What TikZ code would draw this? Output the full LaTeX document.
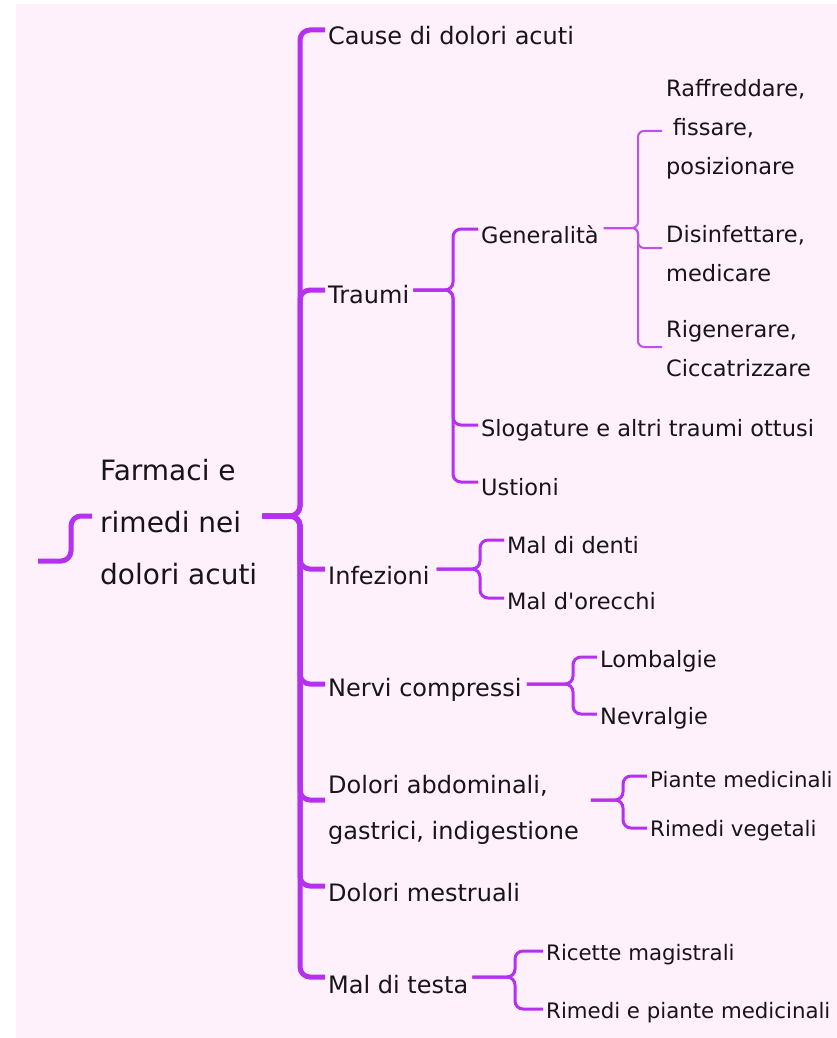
\documentclass[tikz,border=0pt]{standalone}
\usepackage{fontspec}
\setmainfont{DejaVu Sans}[Ligatures=TeXOff]
\definecolor{bgpink}{RGB}{254,241,252}
\definecolor{pur}{RGB}{182,48,240}
\definecolor{purl}{RGB}{192,80,236}
\definecolor{ink}{RGB}{25,20,25}
\begin{document}
\begin{tikzpicture}[x=1pt,y=-1pt,
  txt/.style={anchor=west, inner sep=0pt, text=ink, align=left},
  tA/.style={txt, font=\fontsize{28}{52}\selectfont},
  tB/.style={txt, font=\fontsize{24}{46}\selectfont},
  tC/.style={txt, font=\fontsize{22.5}{39}\selectfont},
  tD/.style={txt, font=\fontsize{21.3}{39}\selectfont},
  cA/.style={draw=pur, line width=5pt, rounded corners=10pt},
  cB/.style={draw=pur, line width=3pt, rounded corners=8pt},
  cC/.style={draw=purl, line width=2pt, rounded corners=6pt}]
\useasboundingbox (0,0) rectangle (837,1038);
\fill[white] (0,0) rectangle (837,1038);
\fill[bgpink] (16,4) rectangle (837,1038);

% root
\node[tA] (root) at (100,522) {Farmaci e\\rimedi nei\\dolori acuti};

% level 1
\node[tB] (cause)  at (328,36)  {Cause di dolori acuti};
\node[tB] (traumi) at (328,295) {Traumi};
\node[tB] (infez)  at (328,576) {Infezioni};
\node[tB] (nervi)  at (328,690) {Nervi compressi};
\node[tB] (dolabd) at (328,810) {Dolori abdominali,\\gastrici, indigestione};
\node[tB] (dolmes) at (328,893) {Dolori mestruali};
\node[tB] (testa)  at (328,985) {Mal di testa};

% level 2
\node[tC] (gen)  at (481,235) {Generalità};
\node[tC] (slog) at (481,430) {Slogature e altri traumi ottusi};
\node[tC] (ust)  at (481,487) {Ustioni};
\node[tC] (raff)   at (666,129) {Raffreddare,\\\hspace{0.3em}fissare,\\posizionare};
\node[tC] (disinf) at (666,254) {Disinfettare,\\medicare};
\node[tC] (rigen)  at (666,349) {Rigenerare,\\Ciccatrizzare};
\node[tC] (denti)   at (507,545) {Mal di denti};
\node[tC] (orecchi) at (507,601) {Mal d'orecchi};
\node[tC] (lomb) at (600,661) {Lombalgie};
\node[tC] (nevr) at (600,718) {Nevralgie};
\node[tD] (piante) at (650,780) {Piante medicinali};
\node[tD] (rimveg) at (650,831) {Rimedi vegetali};
\node[tD] (ricette)   at (546,955)  {Ricette magistrali};
\node[tD] (rimpiante) at (546,1013) {Rimedi e piante medicinali};

% connection points and bracket columns
\coordinate (hookS) at (38,561);
\coordinate (hv) at (71,0);
\coordinate (rootL) at ([xshift=-8pt,yshift=6pt]root.west);
\coordinate (rootR) at ([xshift=5pt,yshift=6pt]root.east);
\coordinate (tx1) at (300,0);
\coordinate (traR) at ([xshift=4pt,yshift=5pt]traumi.east);
\coordinate (tx2) at (453,0);
\coordinate (genR) at ([xshift=5pt,yshift=7pt]gen.east);
\coordinate (tx3) at (638,0);
\coordinate (infR) at ([xshift=7pt,yshift=7pt]infez.east);
\coordinate (tx4) at (480,0);
\coordinate (nerR) at ([xshift=5pt,yshift=6pt]nervi.east);
\coordinate (tx5) at (573,0);
\coordinate (dabR) at ([xshift=12pt,yshift=10pt]dolabd.east);
\coordinate (tx6) at (623,0);
\coordinate (tesR) at ([xshift=4pt,yshift=8pt]testa.east);
\coordinate (tx7) at (515,0);

% root hook
\draw[cA] (hookS) -- (hv |- hookS) |- (rootL);

% trunk
\foreach \n/\s in {cause/6, traumi/5, infez/7, nervi/6, dolabd/10, dolmes/7, testa/8}
  \draw[cA] (rootR) -- (tx1 |- rootR) |- ([xshift=-3pt,yshift=\s pt]\n.west);

% Traumi
\foreach \n/\s in {gen/6, slog/5, ust/5}
  \draw[cB] (traR) -- (tx2 |- traR) |- ([xshift=-3pt,yshift=\s pt]\n.west);

% Generalità
\foreach \n/\s in {raff/-2, disinf/6, rigen/2}
  \draw[cC] (genR) -- (tx3 |- genR) |- ([xshift=-4pt,yshift=\s pt]\n.west);

% Infezioni
\foreach \n/\s in {denti/5, orecchi/3}
  \draw[cB] (infR) -- (tx4 |- infR) |- ([xshift=-3pt,yshift=\s pt]\n.west);

% Nervi compressi
\foreach \n/\s in {lomb/4, nevr/4}
  \draw[cB] (nerR) -- (tx5 |- nerR) |- ([xshift=-3pt,yshift=\s pt]\n.west);

% Dolori abdominali
\foreach \n/\s in {piante/4, rimveg/3}
  \draw[cB] (dabR) -- (tx6 |- dabR) |- ([xshift=-3pt,yshift=\s pt]\n.west);

% Mal di testa
\foreach \n/\s in {ricette/4, rimpiante/4}
  \draw[cB] (tesR) -- (tx7 |- tesR) |- ([xshift=-3pt,yshift=\s pt]\n.west);
\end{tikzpicture}
\end{document}
